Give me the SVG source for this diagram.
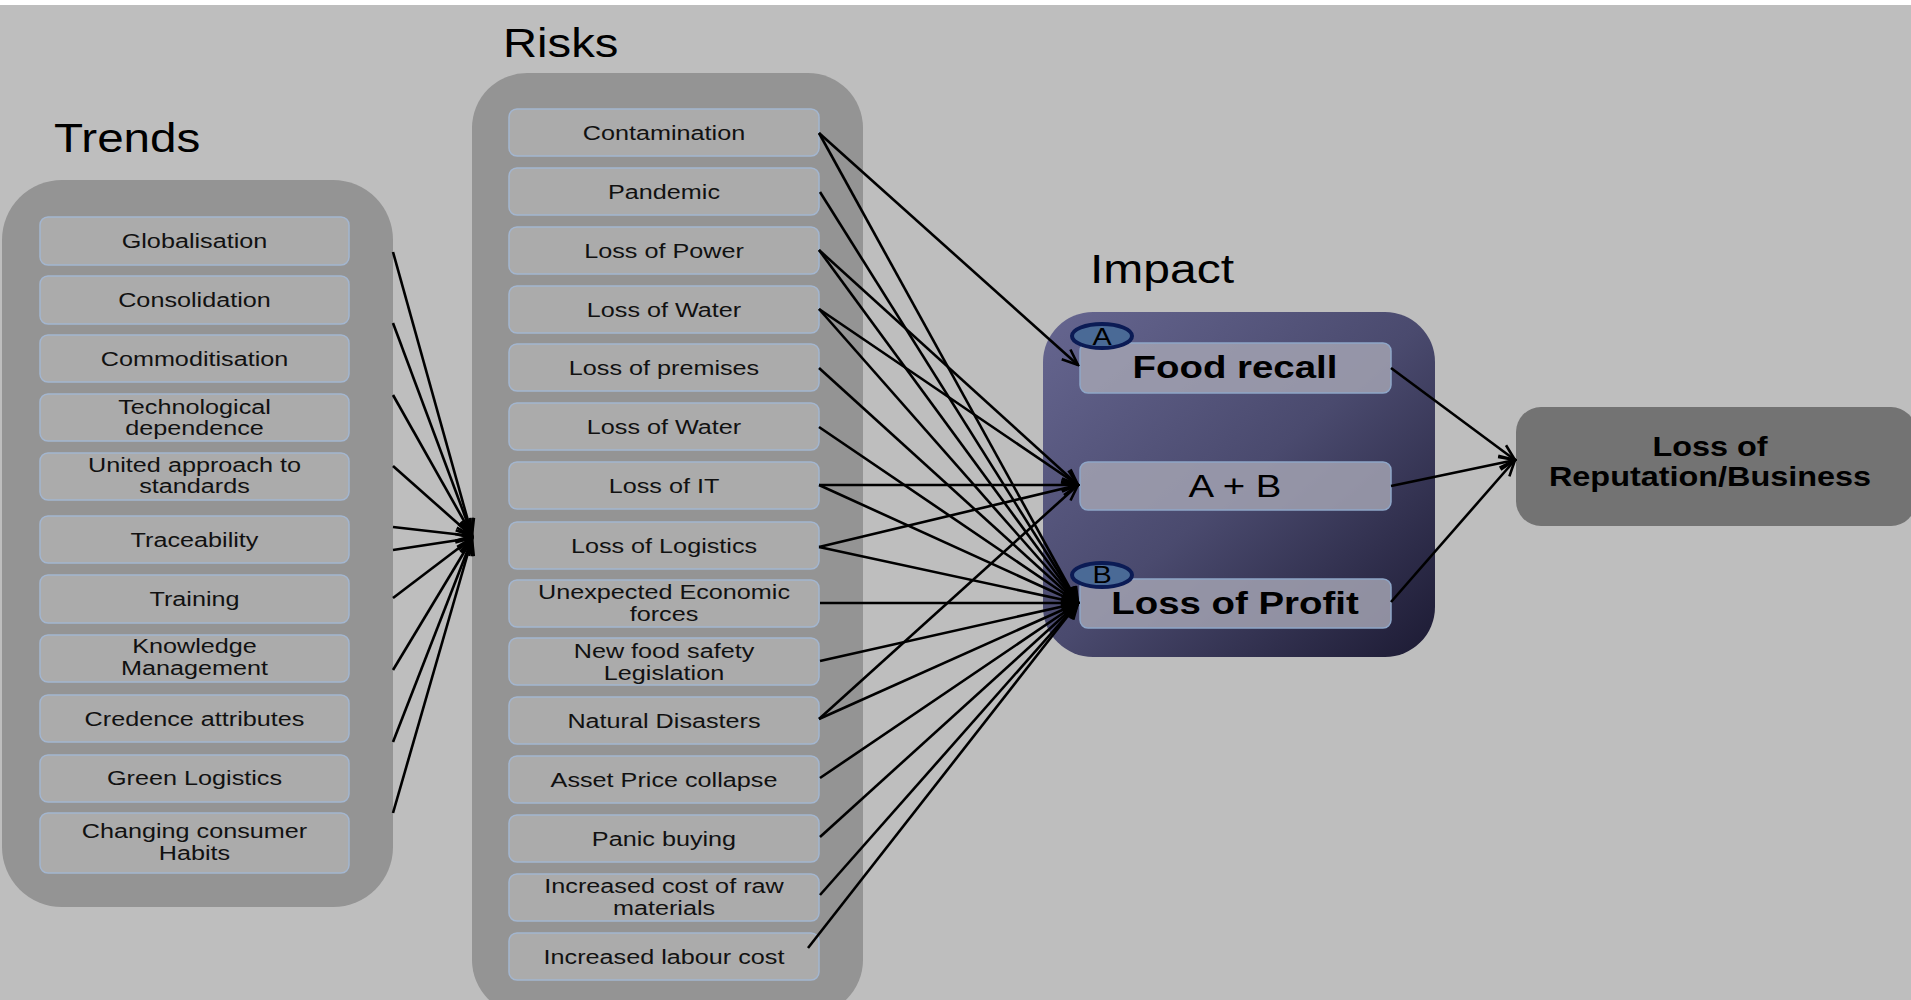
<svg xmlns="http://www.w3.org/2000/svg" width="1911" height="1000" viewBox="0 0 1911 1000">
<defs>
<style>
.bg{fill:#bebebe}
.panel{fill:#949494}
.item{fill:#ababab;stroke:#a3b6d0;stroke-width:1.5}
.t{font-family:"Liberation Sans",Arial,sans-serif;font-size:21px;fill:#111;text-anchor:middle}
.title{font-family:"Liberation Sans",Arial,sans-serif;font-size:40px;fill:#000}
.ibox{fill:#a2a2b2;fill-opacity:0.85;stroke:#8ea6c8;stroke-width:1.5}
.big{font-family:"Liberation Sans",Arial,sans-serif;font-size:32px;fill:#000;text-anchor:middle}
.bold{font-weight:bold}
.badge{fill:#4a6a96;stroke:#0b1b55;stroke-width:4}
.blet{font-family:"Liberation Sans",Arial,sans-serif;font-size:24px;fill:#000;text-anchor:middle}
.rep{font-family:"Liberation Sans",Arial,sans-serif;font-size:27px;font-weight:bold;fill:#000;text-anchor:middle}
#connectors line{stroke:#000;stroke-width:2.6;marker-end:url(#arr)}
</style>
<marker id="arr" markerUnits="userSpaceOnUse" markerWidth="20" markerHeight="16" viewBox="0 0 20 16" refX="18" refY="8" orient="auto">
<path d="M2,1.5 L18,8 L2,14.5" fill="none" stroke="#000" stroke-width="2.6"/>
</marker>
<linearGradient id="impactGrad" x1="0" y1="0" x2="1" y2="1">
<stop offset="0" stop-color="#666690"/>
<stop offset="0.5" stop-color="#4a4a6e"/>
<stop offset="1" stop-color="#1c1a33"/>
</linearGradient>
</defs>

<rect x="0" y="0" width="1911" height="1000" fill="#ffffff"/>
<rect class="bg" x="0" y="5" width="1911" height="995"/>

<!-- Titles -->
<text class="title" transform="translate(54 152) scale(1.19 1)">Trends</text>
<text class="title" transform="translate(503 57) scale(1.18 1)">Risks</text>
<text class="title" transform="translate(1090 283) scale(1.2 1)">Impact</text>

<!-- Trends panel -->
<g id="trends">
<rect class="panel" x="2" y="180" width="391" height="727" rx="60"/>
<g id="t1"><rect class="item" x="40" y="217" width="309" height="48" rx="8"/><text class="t" transform="translate(194.5 248) scale(1.2 1)">Globalisation</text></g>
<g id="t2"><rect class="item" x="40" y="276" width="309" height="48" rx="8"/><text class="t" transform="translate(194.5 307) scale(1.2 1)">Consolidation</text></g>
<g id="t3"><rect class="item" x="40" y="335" width="309" height="47" rx="8"/><text class="t" transform="translate(194.5 366) scale(1.2 1)">Commoditisation</text></g>
<g id="t4"><rect class="item" x="40" y="394" width="309" height="47" rx="8"/><text class="t" transform="translate(194.5 414) scale(1.2 1)"><tspan x="0" y="0">Technological</tspan><tspan x="0" y="21">dependence</tspan></text></g>
<g id="t5"><rect class="item" x="40" y="453" width="309" height="47" rx="8"/><text class="t" transform="translate(194.5 472) scale(1.2 1)"><tspan x="0" y="0">United approach to</tspan><tspan x="0" y="21">standards</tspan></text></g>
<g id="t6"><rect class="item" x="40" y="516" width="309" height="47" rx="8"/><text class="t" transform="translate(194.5 547) scale(1.2 1)">Traceability</text></g>
<g id="t7"><rect class="item" x="40" y="575" width="309" height="48" rx="8"/><text class="t" transform="translate(194.5 606) scale(1.2 1)">Training</text></g>
<g id="t8"><rect class="item" x="40" y="635" width="309" height="47" rx="8"/><text class="t" transform="translate(194.5 653) scale(1.2 1)"><tspan x="0" y="0">Knowledge</tspan><tspan x="0" y="22">Management</tspan></text></g>
<g id="t9"><rect class="item" x="40" y="695" width="309" height="47" rx="8"/><text class="t" transform="translate(194.5 726) scale(1.2 1)">Credence attributes</text></g>
<g id="t10"><rect class="item" x="40" y="755" width="309" height="47" rx="8"/><text class="t" transform="translate(194.5 785) scale(1.2 1)">Green Logistics</text></g>
<g id="t11"><rect class="item" x="40" y="813" width="309" height="60" rx="8"/><text class="t" transform="translate(194.5 838) scale(1.2 1)"><tspan x="0" y="0">Changing consumer</tspan><tspan x="0" y="22">Habits</tspan></text></g>
</g>

<!-- Risks panel -->
<g id="risks">
<rect class="panel" x="472" y="73" width="391" height="942" rx="55"/>
<g id="r1"><rect class="item" x="509" y="109" width="310" height="47" rx="8"/><text class="t" transform="translate(664 140) scale(1.2 1)">Contamination</text></g>
<g id="r2"><rect class="item" x="509" y="168" width="310" height="47" rx="8"/><text class="t" transform="translate(664 199) scale(1.2 1)">Pandemic</text></g>
<g id="r3"><rect class="item" x="509" y="227" width="310" height="47" rx="8"/><text class="t" transform="translate(664 258) scale(1.2 1)">Loss of Power</text></g>
<g id="r4"><rect class="item" x="509" y="286" width="310" height="47" rx="8"/><text class="t" transform="translate(664 317) scale(1.2 1)">Loss of Water</text></g>
<g id="r5"><rect class="item" x="509" y="344" width="310" height="47" rx="8"/><text class="t" transform="translate(664 375) scale(1.2 1)">Loss of premises</text></g>
<g id="r6"><rect class="item" x="509" y="403" width="310" height="47" rx="8"/><text class="t" transform="translate(664 434) scale(1.2 1)">Loss of Water</text></g>
<g id="r7"><rect class="item" x="509" y="462" width="310" height="47" rx="8"/><text class="t" transform="translate(664 493) scale(1.2 1)">Loss of IT</text></g>
<g id="r8"><rect class="item" x="509" y="522" width="310" height="47" rx="8"/><text class="t" transform="translate(664 553) scale(1.2 1)">Loss of Logistics</text></g>
<g id="r9"><rect class="item" x="509" y="580" width="310" height="47" rx="8"/><text class="t" transform="translate(664 599) scale(1.2 1)"><tspan x="0" y="0">Unexpected Economic</tspan><tspan x="0" y="22">forces</tspan></text></g>
<g id="r10"><rect class="item" x="509" y="638" width="310" height="47" rx="8"/><text class="t" transform="translate(664 658) scale(1.2 1)"><tspan x="0" y="0">New food safety</tspan><tspan x="0" y="22">Legislation</tspan></text></g>
<g id="r11"><rect class="item" x="509" y="697" width="310" height="47" rx="8"/><text class="t" transform="translate(664 728) scale(1.2 1)">Natural Disasters</text></g>
<g id="r12"><rect class="item" x="509" y="756" width="310" height="47" rx="8"/><text class="t" transform="translate(664 787) scale(1.2 1)">Asset Price collapse</text></g>
<g id="r13"><rect class="item" x="509" y="815" width="310" height="47" rx="8"/><text class="t" transform="translate(664 846) scale(1.2 1)">Panic buying</text></g>
<g id="r14"><rect class="item" x="509" y="874" width="310" height="47" rx="8"/><text class="t" transform="translate(664 893) scale(1.2 1)"><tspan x="0" y="0">Increased cost of raw</tspan><tspan x="0" y="22">materials</tspan></text></g>
<g id="r15"><rect class="item" x="509" y="933" width="310" height="47" rx="8"/><text class="t" transform="translate(664 964) scale(1.2 1)">Increased labour cost</text></g>
</g>

<!-- Impact panel -->
<g id="impact">
<rect x="1043" y="312" width="392" height="345" rx="50" fill="url(#impactGrad)"/>
<g id="foodrecall"><rect class="ibox" x="1080" y="343" width="311" height="50" rx="8"/><text class="big bold" transform="translate(1235 378) scale(1.2 1)">Food recall</text></g>
<g id="aplusb"><rect class="ibox" x="1080" y="462" width="311" height="48" rx="8"/><text class="big" transform="translate(1235 497) scale(1.2 1)">A + B</text></g>
<g id="lossprofit"><rect class="ibox" x="1080" y="579" width="311" height="49" rx="8"/><text class="big bold" transform="translate(1235 614) scale(1.2 1)">Loss of Profit</text></g>
<g id="badgeA"><ellipse class="badge" cx="1102" cy="336" rx="30" ry="12"/><text class="blet" transform="translate(1102 345) scale(1.2 1)">A</text></g>
<g id="badgeB"><ellipse class="badge" cx="1102" cy="575" rx="30" ry="12"/><text class="blet" transform="translate(1102 583) scale(1.2 1)">B</text></g>
</g>

<!-- Outcome -->
<g id="reputation">
<rect x="1516" y="407" width="400" height="119" rx="25" fill="#737373"/>
<text class="rep" transform="translate(1710 456) scale(1.2 1)"><tspan x="0" y="0">Loss of</tspan><tspan x="0" y="30">Reputation/Business</tspan></text>
</g>

<!-- Connectors -->
<g id="connectors">
<line x1="393" y1="252" x2="472" y2="535"/>
<line x1="393" y1="323" x2="472" y2="535"/>
<line x1="393" y1="395" x2="472" y2="535"/>
<line x1="393" y1="466" x2="472" y2="536"/>
<line x1="393" y1="527" x2="472" y2="536"/>
<line x1="393" y1="550" x2="472" y2="538"/>
<line x1="393" y1="598" x2="472" y2="538"/>
<line x1="393" y1="670" x2="472" y2="539"/>
<line x1="393" y1="742" x2="472" y2="539"/>
<line x1="393" y1="813" x2="472" y2="539"/>

<line x1="819" y1="133" x2="1078" y2="365"/>
<line x1="819" y1="133" x2="1078" y2="603"/>
<line x1="820" y1="192" x2="1078" y2="603"/>
<line x1="819" y1="250" x2="1078" y2="485"/>
<line x1="819" y1="250" x2="1078" y2="603"/>
<line x1="819" y1="309" x2="1078" y2="485"/>
<line x1="819" y1="309" x2="1078" y2="603"/>
<line x1="819" y1="368" x2="1078" y2="603"/>
<line x1="819" y1="427" x2="1078" y2="603"/>
<line x1="819" y1="485" x2="1078" y2="485"/>
<line x1="819" y1="485" x2="1078" y2="603"/>
<line x1="819" y1="547" x2="1078" y2="485"/>
<line x1="819" y1="547" x2="1078" y2="603"/>
<line x1="820" y1="603" x2="1078" y2="603"/>
<line x1="820" y1="661" x2="1078" y2="603"/>
<line x1="819" y1="719" x2="1078" y2="485"/>
<line x1="819" y1="719" x2="1078" y2="603"/>
<line x1="820" y1="778" x2="1078" y2="603"/>
<line x1="820" y1="837" x2="1078" y2="603"/>
<line x1="820" y1="895" x2="1078" y2="603"/>
<line x1="808" y1="948" x2="1078" y2="603"/>

<line x1="1391" y1="368" x2="1515" y2="460"/>
<line x1="1391" y1="486" x2="1515" y2="460"/>
<line x1="1391" y1="602" x2="1515" y2="460"/>
</g>
</svg>
